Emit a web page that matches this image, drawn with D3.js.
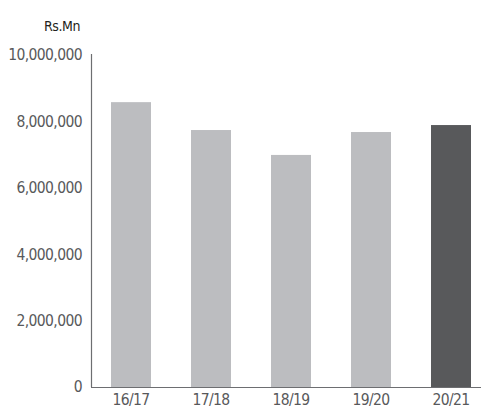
<!DOCTYPE html>
<html>
<head>
<meta charset="utf-8">
<script src="https://cdn.jsdelivr.net/npm/d3@7"></script>
<style>
  html, body { margin: 0; padding: 0; background: #fff; }
  svg { display: block; font-family: "DejaVu Sans Condensed", "Liberation Sans Narrow", sans-serif; }
</style>
</head>
<body>
<svg id="chart" width="481" height="410"></svg>
<script>
// Yearly totals, Rs. Mn
const years = ["16/17", "17/18", "18/19", "19/20", "20/21"];
const values = [8580000, 7740000, 6990000, 7680000, 7890000];
const yTicks = [0, 2000000, 4000000, 6000000, 8000000, 10000000];
const unitLabel = "Rs.Mn";

const svg = d3.select("#chart");
const margin = { left: 91, right: 0, top: 54, bottom: 23 };
const W = 481, H = 410;
const plotBottom = H - margin.bottom; // 387
const FONT = "DejaVu Sans Condensed, Liberation Sans Narrow, sans-serif";

const x = d3.scaleBand()
  .domain(years)
  .range([91, 491])
  .paddingInner(0.5)
  .paddingOuter(0.25);

const y = d3.scaleLinear()
  .domain([0, 10000000])
  .range([plotBottom, 55]);

// bars: latest year highlighted in dark grey
svg.append("g").selectAll("rect")
  .data(values)
  .join("rect")
  .attr("x", (d, i) => x(years[i]))
  .attr("y", d => y(d))
  .attr("width", x.bandwidth())
  .attr("height", d => plotBottom - y(d))
  .attr("fill", (d, i) => i === years.length - 1 ? "#58595b" : "#bcbdc0");

// y axis
const yAxis = svg.append("g")
  .attr("transform", `translate(${margin.left},0)`)
  .call(d3.axisLeft(y).tickValues(yTicks).tickSize(0).tickPadding(9)
    .tickFormat(d3.format(",")));
yAxis.select(".domain").attr("stroke", "#6d6e71").attr("stroke-width", 1.2)
  .attr("d", `M0.5,${plotBottom}V54`);
yAxis.selectAll("text").attr("fill", "#58595b").attr("font-size", 15.5)
  .attr("letter-spacing", "-0.6px")
  .attr("font-family", FONT);

// x axis
const xAxis = svg.append("g")
  .attr("transform", `translate(0,${plotBottom})`)
  .call(d3.axisBottom(x).tickSize(0).tickPadding(7));
xAxis.select(".domain").attr("stroke", "#6d6e71").attr("stroke-width", 1.2)
  .attr("d", `M${margin.left},0.5H${W}`);
xAxis.selectAll("text").attr("fill", "#58595b").attr("font-size", 15.5)
  .attr("letter-spacing", "-0.6px")
  .attr("font-family", FONT);

// unit label
svg.append("text")
  .attr("x", 62)
  .attr("y", 31)
  .attr("text-anchor", "middle")
  .attr("font-size", 14)
  .attr("letter-spacing", "-0.4px")
  .attr("fill", "#231f20")
  .text(unitLabel);
</script>
</body>
</html>
